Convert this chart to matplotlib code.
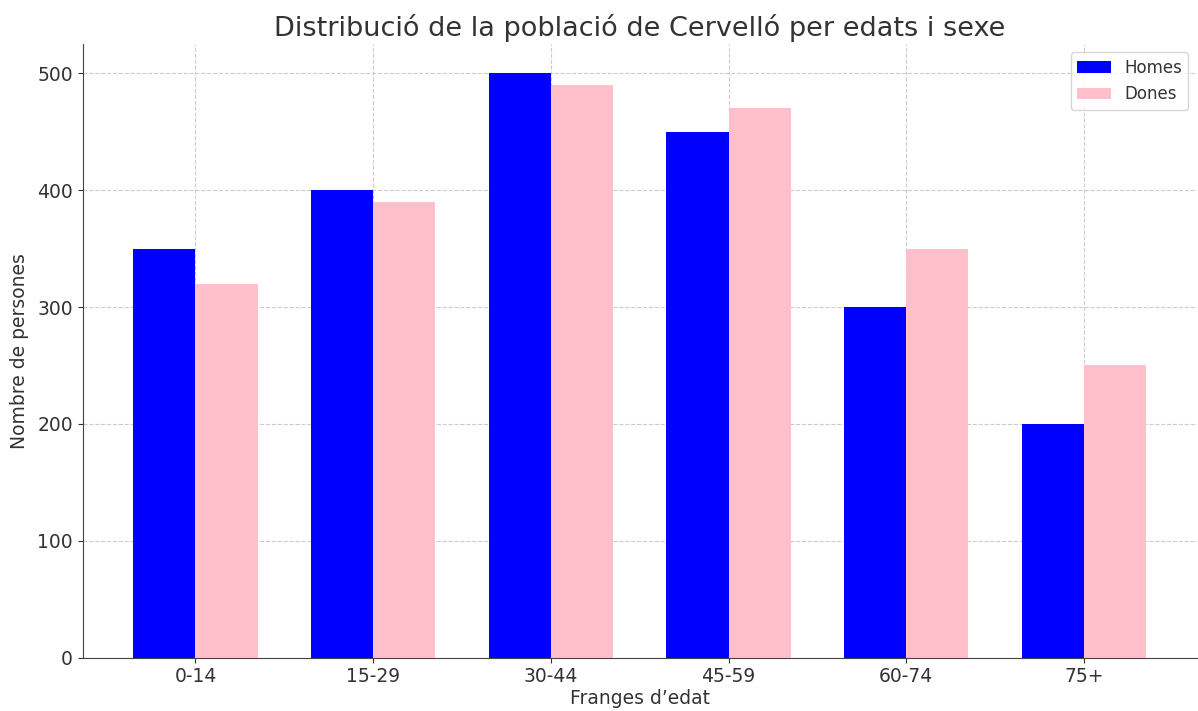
import numpy as np
import matplotlib.pyplot as plt

franges = ['0-14', '15-29', '30-44', '45-59', '60-74', '75+']
homes = [350, 400, 500, 450, 300, 200]
dones = [320, 390, 490, 470, 350, 250]

txt = '#333333'
plt.rcParams['text.color'] = txt
plt.rcParams['axes.labelcolor'] = txt
plt.rcParams['xtick.color'] = txt
plt.rcParams['ytick.color'] = txt

fig = plt.figure(figsize=(11.98, 7.11), dpi=100)
ax = fig.add_axes([0.069, 0.075, 0.93, 0.863])

x = np.arange(len(franges))
w = 0.35
ax.bar(x - w/2, homes, w, color='blue', label='Homes')
ax.bar(x + w/2, dones, w, color='pink', label='Dones')

ax.set_xticks(x)
ax.set_xticklabels(franges, fontsize=13.5)
ax.tick_params(axis='y', labelsize=13.5)
ax.set_xlabel('Franges d\u2019edat', fontsize=13.5, labelpad=2)
ax.set_ylabel('Nombre de persones', fontsize=13.5, labelpad=6)
ax.set_title('Distribució de la població de Cervelló per edats i sexe', fontsize=19.5, pad=6)

ax.grid(True, linestyle='--', color='#cccccc', linewidth=0.8)
ax.set_axisbelow(True)
ax.spines['top'].set_visible(False)
ax.spines['right'].set_visible(False)
ax.spines['left'].set_color('#444444')
ax.spines['bottom'].set_color('#444444')
ax.legend(fontsize=12)

plt.savefig('out.png', dpi=100)
